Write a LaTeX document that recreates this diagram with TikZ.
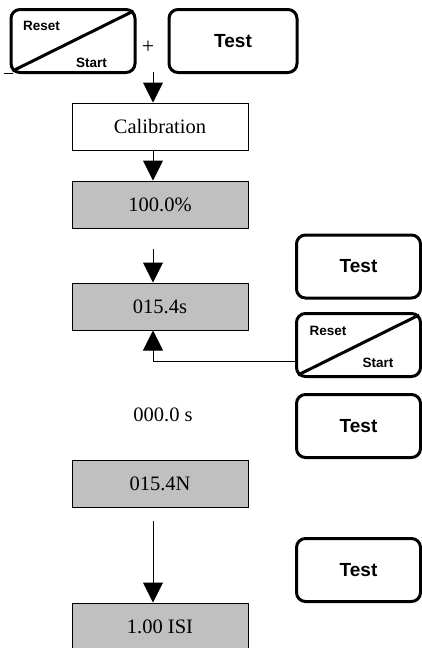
\documentclass[tikz,border=0pt]{standalone}
\usepackage{fontspec}
\setmainfont{Liberation Serif}
\setsansfont{Liberation Sans}
\usepackage{tikz}
\usetikzlibrary{positioning, arrows.meta}
\definecolor{DisplayGray}{HTML}{C0C0C0}

\begin{document}
\begin{tikzpicture}[
    x=1pt, y=-1pt,
    display/.style={
      rectangle, draw, line width=1pt,
      minimum width=176pt, minimum height=47pt, inner sep=0pt,
      font=\fontsize{20.5}{22}\selectfont
    },
    lcd/.style={display, fill=DisplayGray},
    key/.style={
      rectangle, rounded corners=9pt, draw, line width=3pt,
      minimum width=124pt, minimum height=63pt, inner sep=0pt,
      font=\sffamily\bfseries\fontsize{19}{21}\selectfont
    },
    keytext/.style={font=\sffamily\bfseries\fontsize{13.5}{15}\selectfont, inner sep=0pt},
    flow/.style={line width=1pt, arrows={-Triangle[length=20pt,width=20pt]}}
  ]
    \useasboundingbox (0,0) rectangle (422,648);

    %% Keys on top
    \node[key] (reset) at (73,41) {};
    \draw[line width=3pt] ([shift={(3,-3)}]reset.south west) -- ([shift={(-3,3)}]reset.north east);
    \node[keytext] (resettop) at ([shift={(32,18)}]reset.north west) {Reset};
    \node[keytext] (resetbot) at ([shift={(-45,-11)}]reset.south east) {Start};
    \draw[line width=1pt] ([shift={(-6,-1)}]reset.south west) -- ++(9,0);
    \node[font=\fontsize{22}{24}\selectfont] (plus) at (148,47) {+};
    \node[key, minimum width=128pt] (test) at (233,41) {Test};

    %% Display column
    \node[display] (cal) at (160,126.5) {Calibration};
    \node[lcd, below=30pt of cal] (pct) {100.0\%};
    \node[lcd, below=54pt of pct] (sec) {015.4s};
    \node[font=\fontsize{20.5}{22}\selectfont] (hold) at (163,415) {000.0 s};
    \node[lcd, below=129pt of sec] (force) {015.4N};
    \node[lcd, below=95pt of force] (isi) {1.00 ISI};

    %% Keys on the right
    \node[key] (testa) at (358.5,266.5) {Test};
    \node[key] (resetb) at (358.5,345) {};
    \draw[line width=3pt] ([shift={(3,-3)}]resetb.south west) -- ([shift={(-3,3)}]resetb.north east);
    \node[keytext] (resetbtop) at ([shift={(33,19)}]resetb.north west) {Reset};
    \node[keytext] (resetbbot) at ([shift={(-44,-15)}]resetb.south east) {Start};
    \node[key] (testc) at (358.5,426) {Test};
    \node[key] (testd) at (358.5,570) {Test};

    %% Arrows
    \coordinate (go) at (153,72);
    \draw[flow] (go) -- (go |- cal.north);
    \draw[flow] ([xshift=-7pt]cal.south) -- ([xshift=-7pt]pct.north);
    \draw[flow] ([xshift=-7pt,yshift=-20pt]pct.south) -- ([xshift=-7pt]sec.north);
    \draw[flow] ([yshift=-16pt]resetb.west) -| ([xshift=-7pt]sec.south);
    \draw[flow] ([xshift=-7pt,yshift=-13pt]force.south) -- ([xshift=-7pt]isi.north);
  \end{tikzpicture}
\end{document}
